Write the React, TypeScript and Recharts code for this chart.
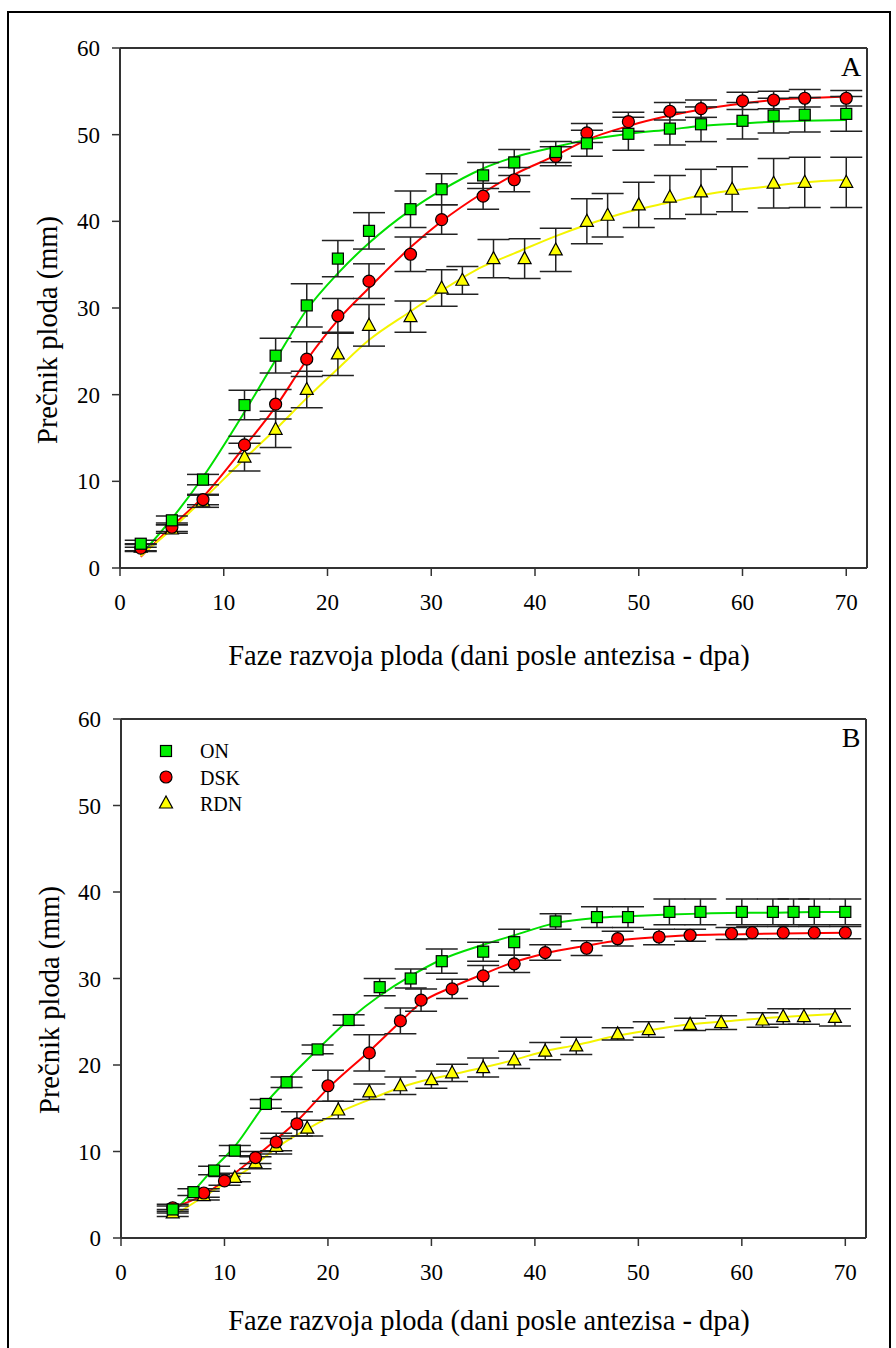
import React from "react";
import { ComposedChart, Scatter, Line, XAxis, YAxis, ErrorBar, ReferenceLine } from "recharts";

// ---------- Panel A data ----------
const aOnX = [2, 5, 8, 12, 15, 18, 21, 24, 28, 31, 35, 38, 42, 45, 49, 53, 56, 60, 63, 66, 70];
const aOnY = [2.8, 5.5, 10.2, 18.8, 24.5, 30.3, 35.7, 38.9, 41.4, 43.7, 45.3, 46.8, 48.0, 49.0, 50.1, 50.7, 51.2, 51.6, 52.2, 52.3, 52.4];
const aOnErr = [0.4, 0.5, 0.6, 1.7, 2.0, 2.5, 2.1, 2.1, 2.1, 1.8, 1.5, 1.5, 1.2, 1.5, 1.9, 1.9, 2.0, 2.1, 2.0, 2.0, 2.0];

const aDskX = [2, 5, 8, 12, 15, 18, 21, 24, 28, 31, 35, 38, 42, 45, 49, 53, 56, 60, 63, 66, 70];
const aDskY = [2.3, 4.7, 7.9, 14.2, 18.9, 24.1, 29.1, 33.1, 36.2, 40.2, 42.9, 44.8, 47.5, 50.2, 51.5, 52.7, 53.0, 53.9, 54.0, 54.2, 54.2];
const aDskErr = [0.4, 0.5, 0.6, 1.0, 1.7, 2.0, 2.0, 2.0, 2.0, 1.7, 1.5, 1.4, 1.1, 1.1, 1.1, 1.0, 1.0, 1.0, 1.0, 1.0, 0.9];

const aRdnX = [2, 5, 8, 12, 15, 18, 21, 24, 28, 31, 33, 36, 39, 42, 45, 47, 50, 53, 56, 59, 63, 66, 70];
const aRdnY = [2.4, 4.5, 7.7, 12.8, 16.0, 20.6, 24.7, 28.0, 29.0, 32.3, 33.2, 35.7, 35.7, 36.7, 40.0, 40.7, 41.9, 42.8, 43.4, 43.7, 44.4, 44.5, 44.5];
const aRdnErr = [0.4, 0.5, 0.7, 1.6, 2.1, 2.1, 2.5, 2.4, 1.8, 2.1, 1.6, 2.2, 2.3, 2.5, 2.6, 2.5, 2.6, 2.5, 2.6, 2.6, 2.85, 2.9, 2.9];

// fitted curves
const aFitX = [2, 5, 8, 12, 15, 18, 21, 24, 28, 31, 35, 38, 42, 45, 49, 53, 56, 60, 63, 66, 70];
const aOnFit = [1.5, 5.7, 10.5, 18.0, 24.0, 29.8, 34.0, 37.5, 41.3, 43.6, 46.1, 47.4, 48.6, 49.4, 50.1, 50.6, 51.0, 51.3, 51.5, 51.6, 51.7];
const aDskFit = [1.3, 4.8, 8.2, 14.0, 18.6, 24.0, 28.6, 32.3, 37.0, 40.0, 43.3, 45.4, 47.6, 49.4, 51.0, 52.2, 52.9, 53.6, 54.0, 54.2, 54.4];
const aRdnFit = [1.4, 4.5, 7.9, 12.6, 16.0, 19.6, 23.0, 26.3, 29.6, 32.0, 34.8, 36.3, 38.3, 39.6, 41.1, 42.2, 43.0, 43.7, 44.1, 44.5, 44.8];

// ---------- Panel B data ----------
const bOnX = [5, 7, 9, 11, 14, 16, 19, 22, 25, 28, 31, 35, 38, 42, 46, 49, 53, 56, 60, 63, 65, 67, 70];
const bOnY = [3.3, 5.3, 7.8, 10.1, 15.5, 18.0, 21.8, 25.2, 29.0, 30.0, 32.0, 33.1, 34.2, 36.6, 37.1, 37.1, 37.7, 37.7, 37.7, 37.7, 37.7, 37.7, 37.7];
const bOnErr = [0.4, 0.4, 0.5, 0.6, 0.5, 0.6, 0.5, 0.6, 1.0, 1.1, 1.4, 1.1, 1.5, 0.9, 1.2, 1.2, 1.5, 1.5, 1.5, 1.5, 1.5, 1.5, 1.5];

const bDskX = [5, 8, 10, 13, 15, 17, 20, 24, 27, 29, 32, 35, 38, 41, 45, 48, 52, 55, 59, 61, 64, 67, 70];
const bDskY = [3.5, 5.2, 6.6, 9.3, 11.1, 13.2, 17.6, 21.4, 25.1, 27.5, 28.8, 30.3, 31.7, 33.0, 33.5, 34.6, 34.8, 35.0, 35.2, 35.3, 35.3, 35.3, 35.3];
const bDskErr = [0.4, 0.5, 0.5, 0.7, 1.0, 1.4, 1.8, 2.1, 1.5, 1.3, 1.1, 1.2, 1.0, 0.9, 0.85, 0.85, 0.9, 0.7, 0.7, 0.7, 0.7, 0.7, 0.7];

const bRdnX = [5, 8, 11, 13, 15, 18, 21, 24, 27, 30, 32, 35, 38, 41, 44, 48, 51, 55, 58, 62, 64, 66, 69];
const bRdnY = [2.9, 4.9, 7.0, 8.7, 10.6, 12.7, 14.8, 16.9, 17.6, 18.3, 19.1, 19.7, 20.6, 21.6, 22.2, 23.6, 24.1, 24.7, 24.9, 25.2, 25.6, 25.6, 25.5];
const bRdnErr = [0.4, 0.5, 0.5, 0.7, 0.9, 0.9, 1.0, 0.9, 1.0, 1.0, 1.0, 1.1, 1.0, 1.0, 1.0, 0.7, 0.9, 0.7, 0.8, 0.85, 0.9, 0.9, 1.0];

const bOnFitX = [5, 7, 9, 11, 14, 16, 19, 22, 25, 28, 31, 35, 38, 42, 46, 49, 53, 56, 60, 63, 67, 70];
const bOnFit = [2.9, 5.4, 8.1, 10.6, 15.6, 18.2, 21.8, 25.2, 28.0, 30.3, 32.2, 33.9, 35.0, 36.4, 37.0, 37.2, 37.4, 37.5, 37.6, 37.6, 37.7, 37.7];
const bDskFitX = [5, 8, 10, 13, 15, 17, 20, 24, 27, 29, 32, 35, 38, 41, 45, 48, 52, 55, 59, 64, 70];
const bDskFit = [3.5, 5.0, 6.6, 9.4, 11.4, 13.5, 17.3, 21.6, 25.0, 27.2, 29.0, 30.5, 31.9, 32.9, 33.8, 34.4, 34.8, 35.0, 35.1, 35.2, 35.3];
const bRdnFitX = [5, 8, 11, 13, 15, 18, 21, 24, 27, 30, 32, 35, 38, 41, 44, 48, 51, 55, 58, 62, 66, 69];
const bRdnFit = [2.5, 4.8, 7.0, 8.5, 10.4, 12.6, 14.5, 16.0, 17.4, 18.4, 18.9, 19.7, 20.6, 21.6, 22.3, 23.4, 24.0, 24.7, 25.0, 25.4, 25.7, 25.9];

const xTicks = [0, 10, 20, 30, 40, 50, 60, 70];
const yTicks = [0, 10, 20, 30, 40, 50, 60];
const seriesNames = ["ON", "DSK", "RDN"];
const xTitle = "Faze razvoja ploda (dani posle antezisa - dpa)";
const yTitle = "Prečnik ploda (mm)";

const GREEN = "#00f000";
const GREEN_LINE = "#00e000";
const RED = "#ff0000";
const YELLOW = "#ffff00";
const YELLOW_LINE = "#f4f400";
const AXIS = "#333333";
const FONT = "Liberation Serif, Tinos, Times New Roman, DejaVu Serif, serif";

const pts = (xs: number[], ys: number[], es?: number[]) =>
  xs.map((x, i) => ({ x, y: ys[i], err: es ? es[i] : 0 }));

const SquareShape = (p: any) => (
  <rect x={p.cx - 5.5} y={p.cy - 5.5} width={11} height={11} fill={GREEN} stroke="#000" strokeWidth={1.2} />
);
const CircleShape = (p: any) => <circle cx={p.cx} cy={p.cy} r={6} fill={RED} stroke="#000" strokeWidth={1.2} />;
const TriShape = (p: any) => (
  <polygon
    points={`${p.cx},${p.cy - 7} ${p.cx - 6.5},${p.cy + 5} ${p.cx + 6.5},${p.cy + 5}`}
    fill={YELLOW}
    stroke="#000"
    strokeWidth={1.2}
  />
);

type PanelProps = {
  top: number;
  marginLeft: number;
  marginRight: number;
  marginTop: number;
  on: any[];
  dsk: any[];
  rdn: any[];
  onFit: any[];
  dskFit: any[];
  rdnFit: any[];
};

const tickStyle = { fontSize: 23, fontFamily: FONT, fill: "#000" };

const Panel = (p: PanelProps) => (
  <div style={{ position: "absolute", left: 0, top: p.top }}>
    <ComposedChart
      width={896}
      height={680}
      margin={{ top: p.marginTop, right: p.marginRight, left: p.marginLeft, bottom: 52 }}
      style={{ fontFamily: FONT }}
    >
      <XAxis
        dataKey="x"
        type="number"
        domain={[0, 72]}
        ticks={xTicks}
        allowDataOverflow
        height={60}
        tickSize={8}
        tickMargin={18}
        axisLine={{ stroke: AXIS, strokeWidth: 2 }}
        tickLine={{ stroke: AXIS, strokeWidth: 1.5 }}
        tick={tickStyle}
      />
      <YAxis
        dataKey="y"
        type="number"
        domain={[0, 60]}
        ticks={yTicks}
        allowDataOverflow
        width={60}
        tickSize={8}
        tickMargin={12}
        axisLine={{ stroke: AXIS, strokeWidth: 2 }}
        tickLine={{ stroke: AXIS, strokeWidth: 1.5 }}
        tick={tickStyle}
      />
      <ReferenceLine y={60} stroke={AXIS} strokeWidth={2} />
      <ReferenceLine x={72} stroke={AXIS} strokeWidth={2} />
      <Line data={p.onFit} dataKey="y" type="monotone" stroke={GREEN_LINE} strokeWidth={2} dot={false} isAnimationActive={false} />
      <Line data={p.dskFit} dataKey="y" type="monotone" stroke={RED} strokeWidth={2} dot={false} isAnimationActive={false} />
      <Line data={p.rdnFit} dataKey="y" type="monotone" stroke={YELLOW_LINE} strokeWidth={2} dot={false} isAnimationActive={false} />
      <Scatter data={p.rdn} dataKey="y" fill={YELLOW} shape={TriShape} isAnimationActive={false}>
        <ErrorBar dataKey="err" direction="y" width={16} stroke="#222" strokeWidth={1.5} />
      </Scatter>
      <Scatter data={p.dsk} dataKey="y" fill={RED} shape={CircleShape} isAnimationActive={false}>
        <ErrorBar dataKey="err" direction="y" width={16} stroke="#222" strokeWidth={1.5} />
      </Scatter>
      <Scatter data={p.on} dataKey="y" fill={GREEN} shape={SquareShape} isAnimationActive={false}>
        <ErrorBar dataKey="err" direction="y" width={16} stroke="#222" strokeWidth={1.5} />
      </Scatter>
    </ComposedChart>
  </div>
);

const txt = { fontFamily: FONT, fill: "#000" } as const;

export default function App() {
  return (
    <div style={{ position: "absolute", left: 0, top: 0, width: 896, height: 1348, background: "#fff", overflow: "hidden", fontFamily: FONT }}>
      <Panel
        top={0}
        marginTop={48}
        marginLeft={60}
        marginRight={29}
        on={pts(aOnX, aOnY, aOnErr)}
        dsk={pts(aDskX, aDskY, aDskErr)}
        rdn={pts(aRdnX, aRdnY, aRdnErr)}
        onFit={pts(aFitX, aOnFit)}
        dskFit={pts(aFitX, aDskFit)}
        rdnFit={pts(aFitX, aRdnFit)}
      />
      <Panel
        top={670}
        marginTop={49}
        marginLeft={61}
        marginRight={30}
        on={pts(bOnX, bOnY, bOnErr)}
        dsk={pts(bDskX, bDskY, bDskErr)}
        rdn={pts(bRdnX, bRdnY, bRdnErr)}
        onFit={pts(bOnFitX, bOnFit)}
        dskFit={pts(bDskFitX, bDskFit)}
        rdnFit={pts(bRdnFitX, bRdnFit)}
      />
      <svg
        width={896}
        height={1348}
        style={{ position: "absolute", left: 0, top: 0, pointerEvents: "none" }}
      >
        <rect x={8} y={12} width={882} height={1345} fill="none" stroke="#000" strokeWidth={2} />
        <text x={851} y={76} textAnchor="middle" fontSize={28} style={txt}>A</text>
        <text x={851} y={747} textAnchor="middle" fontSize={28} style={txt}>B</text>
        <text x={489} y={665} textAnchor="middle" fontSize={28.5} style={txt}>{xTitle}</text>
        <text x={489} y={1330} textAnchor="middle" fontSize={28.5} style={txt}>{xTitle}</text>
        <text transform="translate(57,330) rotate(-90)" textAnchor="middle" fontSize={28.5} style={txt}>{yTitle}</text>
        <text transform="translate(59,1000) rotate(-90)" textAnchor="middle" fontSize={28.5} style={txt}>{yTitle}</text>
        <rect x={160.5} y={745.5} width={11} height={11} fill={GREEN} stroke="#000" strokeWidth={1.2} />
        <circle cx={166} cy={777} r={6} fill={RED} stroke="#000" strokeWidth={1.2} />
        <polygon points="166,796 159.5,808 172.5,808" fill={YELLOW} stroke="#000" strokeWidth={1.2} />
        <text x={200} y={758} fontSize={20} style={txt}>{seriesNames[0]}</text>
        <text x={200} y={785} fontSize={20} style={txt}>{seriesNames[1]}</text>
        <text x={200} y={811} fontSize={20} style={txt}>{seriesNames[2]}</text>
      </svg>
    </div>
  );
}
